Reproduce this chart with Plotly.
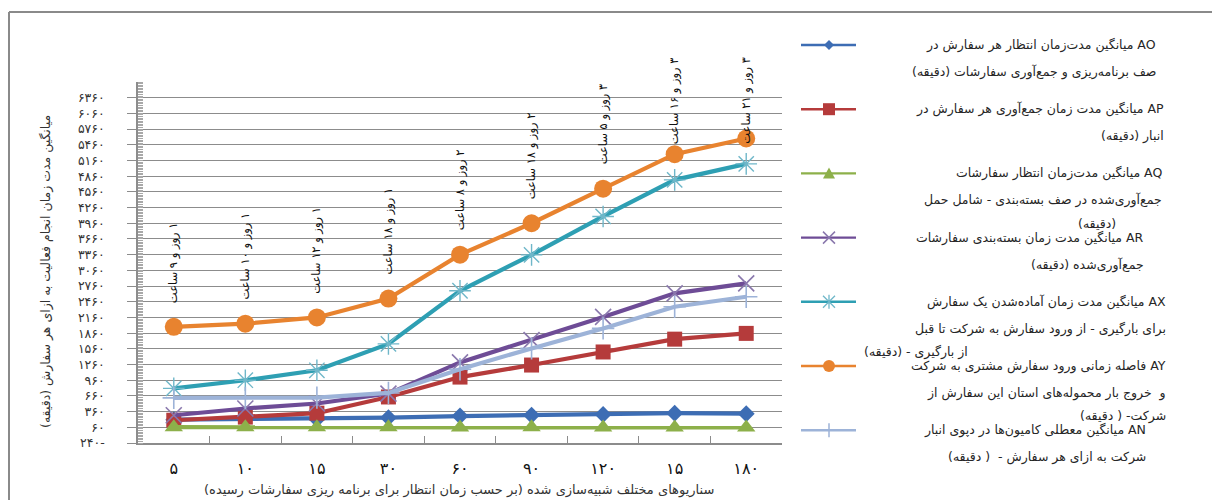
import plotly.graph_objects as go

# ---------------- data ----------------
scenarios = ["5", "10", "15", "30", "60", "90", "120", "150", "180"]
x_tick_labels = ["۵", "۱۰", "۱۵", "۳۰", "۶۰", "۹۰", "۱۲۰", "۱۵", "۱۸۰"]

AO = [205, 215, 215, 245, 275, 290, 305, 330, 320]
AP = [195, 255, 330, 640, 1020, 1250, 1500, 1745, 1855]
AQ = [62, 62, 62, 62, 55, 62, 58, 58, 58]
AR = [290, 420, 515, 705, 1300, 1725, 2170, 2620, 2810]
AX = [805, 960, 1150, 1655, 2670, 3355, 4090, 4790, 5095]
AY = [1980, 2040, 2160, 2520, 3360, 3960, 4620, 5280, 5580]
AN = [622, 622, 627, 717, 1170, 1568, 1950, 2365, 2555]

AY_labels = ["۱ روز و ۹ ساعت", "۱ روز و ۱۰ ساعت", "۱ روز و ۱۲ ساعت",
             "۱ روز و ۱۸ ساعت", "۲ روز و ۸ ساعت", "۲ روز و ۱۸ ساعت",
             "۳ روز و ۵ ساعت", "۳ روز و ۱۶ ساعت", "۳ روز و ۲۱ ساعت"]

y_tick_values = [-240, 60, 360, 660, 960, 1260, 1560, 1860, 2160, 2460, 2760,
                 3060, 3360, 3660, 3960, 4260, 4560, 4860, 5160, 5460, 5760,
                 6060, 6360]
y_tick_labels = ["۲۴۰-", "۶۰", "۳۶۰", "۶۶۰", "۹۶۰", "۱۲۶۰", "۱۵۶۰", "۱۸۶۰",
                 "۲۱۶۰", "۲۴۶۰", "۲۷۶۰", "۳۰۶۰", "۳۳۶۰", "۳۶۶۰", "۳۹۶۰",
                 "۴۲۶۰", "۴۵۶۰", "۴۸۶۰", "۵۱۶۰", "۵۴۶۰", "۵۷۶۰", "۶۰۶۰",
                 "۶۳۶۰"]

legend_texts = {
    "AO": ["AO میانگین مدت‌زمان انتظار هر سفارش در",
           "صف برنامه‌ریزی و جمع‌آوری سفارشات (دقیقه)"],
    "AP": ["AP میانگین مدت زمان جمع‌آوری هر سفارش در",
           "انبار (دقیقه)"],
    "AQ": ["AQ میانگین مدت‌زمان انتظار سفارشات",
           "جمع‌آوری‌شده در صف بسته‌بندی - شامل حمل",
           "(دقیقه)"],
    "AR": ["AR میانگین مدت زمان بسته‌بندی سفارشات",
           "جمع‌آوری‌شده (دقیقه)"],
    "AX": ["AX میانگین مدت زمان آماده‌شدن یک سفارش",
           "برای بارگیری - از ورود سفارش به شرکت تا قبل",
           "از بارگیری - (دقیقه)"],
    "AY": ["AY فاصله زمانی ورود سفارش مشتری به شرکت",
           "و  خروج بار محموله‌های استان این سفارش از",
           "شرکت- ( دقیقه)"],
    "AN": ["AN میانگین معطلی کامیون‌ها در دپوی انبار",
           "شرکت به ازای هر سفارش -  ( دقیقه)"],
}

y_title = "میانگین مدت زمان انجام فعالیت به ازای هر سفارش (دقیقه)"
x_title = "سناریوهای مختلف شبیه‌سازی شده (بر حسب زمان انتظار برای برنامه ریزی سفارشات رسیده)"

# ---------------- styling ----------------
W, H = 1212, 500
PL, PR, PT, PB = 138, 782, 82, 443          # plot area in pixels
Y_MIN, Y_MAX = -240, 6660
FONT = "DejaVu Sans"
GRID = "#8c8c8c"

def rtl(s):
    return "\u202b" + s + "\u202c"

def px(xp):
    return (xp - PL) / (PR - PL)

def py(yp):
    return (PB - yp) / (PB - PT)

series = [
    ("AO", AO, "#3d6db4", dict(symbol="diamond", size=13)),
    ("AP", AP, "#b53b3b", dict(symbol="square", size=15)),
    ("AQ", AQ, "#8db04a", dict(symbol="triangle-up", size=16)),
    ("AR", AR, "#6e4c96", dict(symbol="x-thin", size=16, line=dict(width=1.6, color="#8a78ad"))),
    ("AX", AX, "#2e9fb3", dict(symbol="asterisk", size=18, line=dict(width=1.4, color="#6fb7c9"))),
    ("AY", AY, "#e8832f", dict(symbol="circle", size=18)),
    ("AN", AN, "#9db3d8", dict(symbol="cross-thin", size=16, line=dict(width=1.6, color="#9db3d8"))),
]

fig = go.Figure()
for name, vals, color, mk in series:
    m = dict(mk)
    if "line" not in m:
        m["color"] = color
    fig.add_trace(go.Scatter(
        x=scenarios, y=vals, mode="lines+markers", name=name,
        line=dict(color=color, width=4.2),
        marker=m, showlegend=False, cliponaxis=False,
    ))

annotations = []
shapes = []

# rotated duration labels above the AY points
LABEL_LEN = 80
for idx, (v, lab) in enumerate(zip(AY, AY_labels)):
    pix = PT + (Y_MAX - v) / (Y_MAX - Y_MIN) * (PB - PT)
    shift = min(22, pix - 66 - LABEL_LEN)
    annotations.append(dict(
        x=idx, y=v, xref="x", yref="y", text=rtl(lab), textangle=-90,
        showarrow=False, xanchor="center", yanchor="bottom", yshift=shift,
        font=dict(family=FONT, size=11.5, color="#111111"),
    ))

# custom legend on the right
legend_y0 = 45
legend_step = 64.2
line_offsets = [0, 27, 50]
right_edges = {"AO": 1158, "AP": 1166, "AQ": 1164, "AR": 1146,
               "AX": 1168, "AY": 1168, "AN": 1148}
for i, (name, vals, color, mk) in enumerate(series):
    yy = legend_y0 + i * legend_step
    shapes.append(dict(type="line", xref="paper", yref="paper",
                       x0=px(801), x1=px(856), y0=py(yy), y1=py(yy),
                       line=dict(color=color, width=2.4)))
    cx, cy = px(829), py(yy)
    base = dict(xref="paper", yref="paper", xsizemode="pixel", ysizemode="pixel",
                xanchor=cx, yanchor=cy)
    sym = mk["symbol"]
    if sym == "diamond":
        shapes.append(dict(type="path", path="M -5,0 L 0,5 L 5,0 L 0,-5 Z",
                           fillcolor=color, line=dict(width=0), **base))
    elif sym == "square":
        shapes.append(dict(type="rect", x0=-6, x1=6, y0=-6, y1=6,
                           fillcolor=color, line=dict(width=0), **base))
    elif sym == "triangle-up":
        shapes.append(dict(type="path", path="M -6,-5 L 6,-5 L 0,6 Z",
                           fillcolor=color, line=dict(width=0), **base))
    elif sym == "circle":
        shapes.append(dict(type="circle", x0=-6, x1=6, y0=-6, y1=6,
                           fillcolor=color, line=dict(width=0), **base))
    elif sym == "x-thin":
        shapes.append(dict(type="path", path="M -6,-6 L 6,6 M -6,6 L 6,-6",
                           line=dict(color=mk["line"]["color"], width=1.5), **base))
    elif sym == "asterisk":
        shapes.append(dict(type="path", path="M -6,-6 L 6,6 M -6,6 L 6,-6 M 0,-7 L 0,7",
                           line=dict(color=mk["line"]["color"], width=1.3), **base))
    elif sym == "cross-thin":
        shapes.append(dict(type="path", path="M -7,0 L 7,0 M 0,-7 L 0,7",
                           line=dict(color=mk["line"]["color"], width=1.5), **base))
    for j, txt in enumerate(legend_texts[name]):
        xa, xanc = right_edges[name], "right"
        if name == "AX" and j == 2:
            xa, xanc = 862, "left"
        if name == "AQ" and j == 2:
            xa, xanc = 1097, "center"
        annotations.append(dict(
            x=px(xa), y=py(yy + line_offsets[j]), xref="paper", yref="paper",
            text=rtl(txt), showarrow=False, xanchor=xanc, yanchor="middle",
            align="right", font=dict(family=FONT, size=12.5, color="#262626"),
        ))

# outer frame (top and left edges visible in the picture)
shapes.append(dict(type="line", xref="paper", yref="paper",
                   x0=px(9), x1=px(1212), y0=py(12), y1=py(12),
                   line=dict(color="#8a8a8a", width=2)))
shapes.append(dict(type="line", xref="paper", yref="paper",
                   x0=px(9), x1=px(9), y0=py(12), y1=py(500),
                   line=dict(color="#8a8a8a", width=2)))

# axis titles
annotations.append(dict(
    x=px(46), y=py(272), xref="paper", yref="paper", text=rtl(y_title),
    textangle=-90, showarrow=False, xanchor="center", yanchor="middle",
    font=dict(family=FONT, size=12.5, color="#333333"),
))
annotations.append(dict(
    x=px(459), y=py(490), xref="paper", yref="paper", text=rtl(x_title),
    showarrow=False, xanchor="center", yanchor="middle",
    font=dict(family=FONT, size=13, color="#333333"),
))

fig.update_layout(
    width=W, height=H,
    margin=dict(l=PL, r=W - PR, t=PT, b=H - PB, pad=0),
    paper_bgcolor="white", plot_bgcolor="white",
    font=dict(family=FONT),
    showlegend=False,
    annotations=annotations, shapes=shapes,
    xaxis=dict(
        type="category", range=[-0.5, 8.5],
        tickvals=scenarios, ticktext=x_tick_labels,
        tickson="boundaries", ticks="inside", ticklen=7, tickcolor=GRID,
        showgrid=False, showline=True, linecolor=GRID, linewidth=1.5,
        tickfont=dict(family=FONT, size=16, color="#111111"),
        ticklabelstandoff=10, zeroline=False,
    ),
    yaxis=dict(
        range=[Y_MIN, Y_MAX], tickvals=y_tick_values, ticktext=y_tick_labels,
        ticks="outside", ticklen=9, tickcolor=GRID,
        showgrid=True, gridcolor=GRID, gridwidth=1.2,
        showline=True, linecolor=GRID, linewidth=1.5, zeroline=False,
        tickfont=dict(family=FONT, size=12.5, color="#333333"),
        ticklabelstandoff=20,
        minor=dict(dtick=30, tick0=-240, ticks="inside", ticklen=5,
                   tickcolor="#a8a8a8", tickwidth=1, showgrid=False),
    ),
)

fig.write_html(
    "out.html",
    config={"displayModeBar": False},
    post_script="document.body.style.margin='0';document.body.style.overflow='hidden';",
)
